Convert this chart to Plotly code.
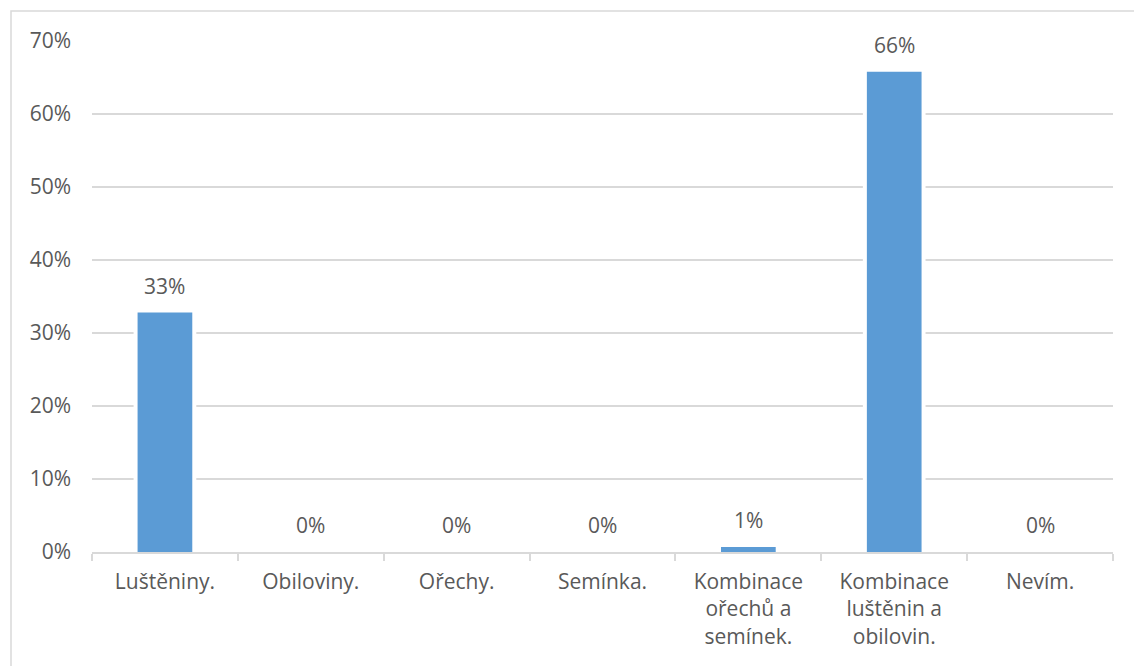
import plotly.graph_objects as go

categories = ["Luštěniny.", "Obiloviny.", "Ořechy.", "Semínka.",
              "Kombinace ořechů a semínek.", "Kombinace luštěnin a obilovin.", "Nevím."]
tick_labels = ["Luštěniny.", "Obiloviny.", "Ořechy.", "Semínka.",
               "Kombinace<br>ořechů a<br>semínek.", "Kombinace<br>luštěnin a<br>obilovin.", "Nevím."]
values = [0.328, 0.0, 0.0, 0.0, 0.007, 0.658, 0.0]
y_ticks = [0, 0.1, 0.2, 0.3, 0.4, 0.5, 0.6, 0.7]

FONT = "Open Sans"
TXT = "#595959"
GRID = "#d9d9d9"

fig = go.Figure()
# white backing bars create the gap in gridlines around each bar
fig.add_trace(go.Bar(x=categories, y=values, width=0.43,
                     marker=dict(color="white", line=dict(width=0)),
                     hoverinfo="skip", showlegend=False))
fig.add_trace(go.Bar(x=categories, y=values, width=0.375,
                     marker=dict(color="#5b9bd5", line=dict(width=0)),
                     showlegend=False))

for c, v in zip(categories, values):
    fig.add_annotation(x=c, y=v, text=f"{round(v*100)}%", showarrow=False,
                       yanchor="bottom", yshift=11,
                       font=dict(family=FONT, size=21, color=TXT))

fig.add_shape(type="rect", xref="paper", yref="paper",
              x0=-81/1021, x1=1.2, y0=-0.4, y1=1 + 30/511,
              line=dict(color=GRID, width=1.5), fillcolor="rgba(0,0,0,0)", layer="below")

fig.update_layout(
    width=1134, height=666,
    margin=dict(l=92, r=21, t=41, b=114),
    paper_bgcolor="white", plot_bgcolor="white",
    barmode="overlay",
    font=dict(family=FONT, size=21, color=TXT),
    xaxis=dict(tickmode="array", tickvals=categories, ticktext=tick_labels,
               tickson="boundaries", ticks="outside", ticklen=7, tickcolor=GRID,
               tickwidth=1.5, showline=True, linecolor=GRID, linewidth=1.5,
               showgrid=False, ticklabelstandoff=10,
               tickfont=dict(family=FONT, size=21, color=TXT)),
    yaxis=dict(range=[0, 0.7], tickvals=y_ticks, tickformat=".0%",
               showgrid=True, gridcolor=GRID, gridwidth=1.5,
               zeroline=False, showline=False, ticks="",
               ticklabelstandoff=20,
               tickfont=dict(family=FONT, size=21, color=TXT)),
)

fig.write_html("out.html")
